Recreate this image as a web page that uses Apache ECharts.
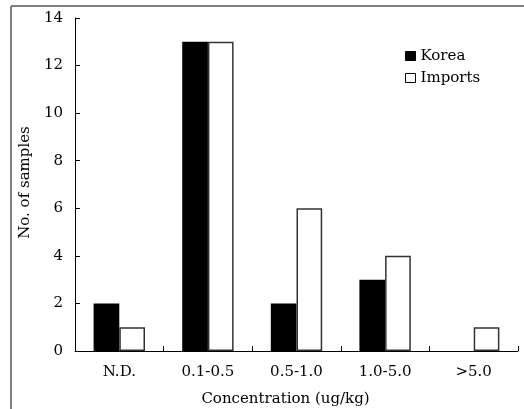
<!DOCTYPE html>
<html><head><meta charset="utf-8">
<script src="https://cdn.jsdelivr.net/npm/echarts@6/dist/echarts.min.js"></script>
<style>html,body{margin:0;padding:0;background:#fff}#c{width:524px;height:409px}</style>
</head><body><div id="c"></div>
<script>
var categories = ['N.D.', '0.1-0.5', '0.5-1.0', '1.0-5.0', '>5.0'];
var korea = [2, 13, 2, 3, 0];
var imports = [1, 13, 6, 4, 1];
var yTicks = [0, 2, 4, 6, 8, 10, 12, 14];
var FONT = 'DejaVu Serif';
var chart = echarts.init(document.getElementById('c'));
chart.setOption({
  animation: false,
  backgroundColor: '#fff',
  textStyle: {fontFamily: FONT, color: '#000'},
  graphic: [
    {type: 'line', shape: {x1: 11, y1: 6, x2: 524, y2: 6}, style: {stroke: '#808080', lineWidth: 2}},
    {type: 'line', shape: {x1: 11, y1: 6, x2: 11, y2: 409}, style: {stroke: '#808080', lineWidth: 2}}
  ],
  legend: {
    orient: 'vertical', left: 400, top: 43, itemWidth: 10, itemHeight: 9, itemGap: 6,
    textStyle: {fontFamily: FONT, fontSize: 15, lineHeight: 16, color: '#000'},
    data: [
      {name: 'Korea', icon: 'rect', itemStyle: {color: '#000', borderColor: '#000', borderWidth: 1}},
      {name: 'Imports', icon: 'rect', itemStyle: {color: '#fff', borderColor: '#000', borderWidth: 1}}
    ]
  },
  grid: {left: 75, top: 18, right: 6, bottom: 58, containLabel: false, outerBoundsMode: 'none'},
  xAxis: {
    type: 'category', data: categories,
    name: 'Concentration (ug/kg)', nameLocation: 'middle', nameGap: 41,
    nameTextStyle: {fontFamily: FONT, fontSize: 15, color: '#000', padding: [0, 22, 0, 0]},
    axisLine: {lineStyle: {color: '#000', width: 1}},
    axisTick: {show: true, inside: true, length: 5, alignWithLabel: false, lineStyle: {color: '#000'}},
    axisLabel: {fontFamily: FONT, fontSize: 15, color: '#000', margin: 14},
    splitLine: {show: false}
  },
  yAxis: {
    type: 'value', min: 0, max: 14, interval: 2,
    name: 'No. of samples', nameLocation: 'middle', nameGap: 41,
    nameTextStyle: {fontFamily: FONT, fontSize: 15, color: '#000', padding: [0, 0, 0, 4]},
    axisLine: {show: true, lineStyle: {color: '#000', width: 1}},
    axisTick: {show: true, inside: true, length: 5, lineStyle: {color: '#000'}},
    axisLabel: {fontFamily: FONT, fontSize: 15, color: '#000', margin: 12,
      formatter: function (v) { return yTicks.indexOf(v) >= 0 ? String(v) : ''; }},
    splitLine: {show: false}
  },
  series: [
    {name: 'Korea', type: 'bar', data: korea, barGap: '0%', barCategoryGap: '42%',
     itemStyle: {color: '#000', borderWidth: 0}},
    {name: 'Imports', type: 'bar', data: imports, barGap: '0%', barCategoryGap: '42%',
     itemStyle: {color: '#fff', borderColor: '#333', borderWidth: 1.5}}
  ]
});
</script></body></html>
